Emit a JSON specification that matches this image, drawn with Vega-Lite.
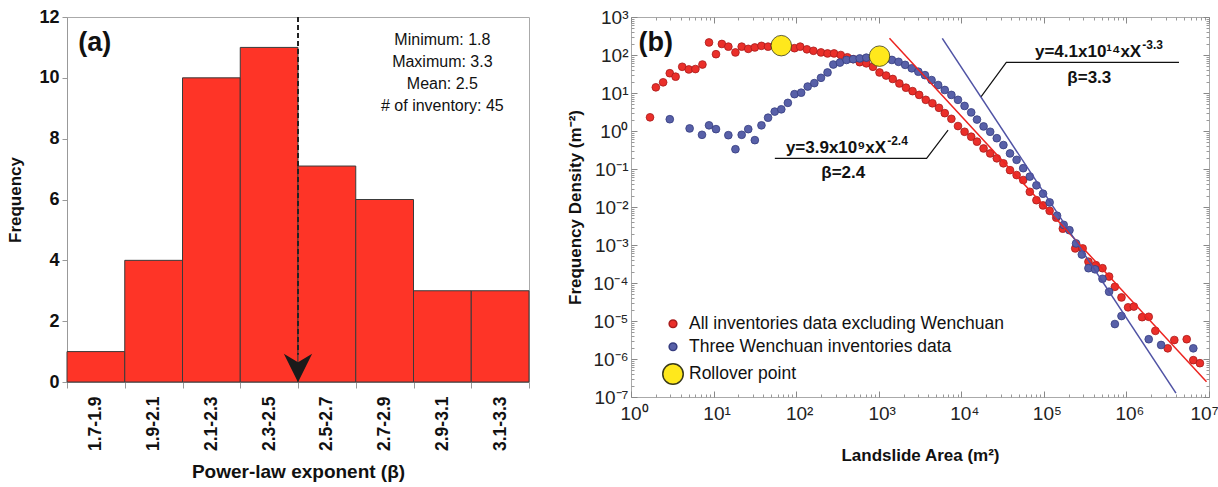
{
  "$schema": "https://vega.github.io/schema/vega-lite/v6.json",
  "background": "white",
  "padding": {"left": 6, "top": 7, "right": 8, "bottom": 5},
  "spacing": 36,
  "config": {
    "font": "Liberation Sans",
    "view": {"stroke": "#aaaaaa", "strokeWidth": 1},
    "axis": {"labelFont": "Liberation Sans", "titleFont": "Liberation Sans", "grid": false}
  },
  "datasets": {
    "hist": [
      {"bin": "1.7-1.9", "frequency": 1},
      {"bin": "1.9-2.1", "frequency": 4},
      {"bin": "2.1-2.3", "frequency": 10},
      {"bin": "2.3-2.5", "frequency": 11},
      {"bin": "2.5-2.7", "frequency": 7.1},
      {"bin": "2.7-2.9", "frequency": 6},
      {"bin": "2.9-3.1", "frequency": 3},
      {"bin": "3.1-3.3", "frequency": 3}
    ],
    "points": [
      {"series": "All inventories data excluding Wenchuan", "area": 1.70, "density": 2.29},
      {"series": "All inventories data excluding Wenchuan", "area": 2.00, "density": 14.1},
      {"series": "All inventories data excluding Wenchuan", "area": 2.45, "density": 19.1},
      {"series": "All inventories data excluding Wenchuan", "area": 2.95, "density": 33.1},
      {"series": "All inventories data excluding Wenchuan", "area": 3.47, "density": 26.9},
      {"series": "All inventories data excluding Wenchuan", "area": 4.17, "density": 49.0},
      {"series": "All inventories data excluding Wenchuan", "area": 5.01, "density": 41.7},
      {"series": "All inventories data excluding Wenchuan", "area": 6.03, "density": 42.7},
      {"series": "All inventories data excluding Wenchuan", "area": 7.33, "density": 56.2},
      {"series": "All inventories data excluding Wenchuan", "area": 8.81, "density": 214},
      {"series": "All inventories data excluding Wenchuan", "area": 10.7, "density": 105},
      {"series": "All inventories data excluding Wenchuan", "area": 12.6, "density": 195},
      {"series": "All inventories data excluding Wenchuan", "area": 15.1, "density": 166},
      {"series": "All inventories data excluding Wenchuan", "area": 18.4, "density": 117},
      {"series": "All inventories data excluding Wenchuan", "area": 21.9, "density": 166},
      {"series": "All inventories data excluding Wenchuan", "area": 26.3, "density": 145},
      {"series": "All inventories data excluding Wenchuan", "area": 31.6, "density": 158},
      {"series": "All inventories data excluding Wenchuan", "area": 38.0, "density": 174},
      {"series": "All inventories data excluding Wenchuan", "area": 45.7, "density": 166},
      {"series": "All inventories data excluding Wenchuan", "area": 55.0, "density": 174},
      {"series": "All inventories data excluding Wenchuan", "area": 66.1, "density": 174},
      {"series": "All inventories data excluding Wenchuan", "area": 79.4, "density": 166},
      {"series": "All inventories data excluding Wenchuan", "area": 95.5, "density": 151},
      {"series": "All inventories data excluding Wenchuan", "area": 112, "density": 166},
      {"series": "All inventories data excluding Wenchuan", "area": 135, "density": 141},
      {"series": "All inventories data excluding Wenchuan", "area": 162, "density": 129},
      {"series": "All inventories data excluding Wenchuan", "area": 200, "density": 117},
      {"series": "All inventories data excluding Wenchuan", "area": 240, "density": 110},
      {"series": "All inventories data excluding Wenchuan", "area": 288, "density": 110},
      {"series": "All inventories data excluding Wenchuan", "area": 347, "density": 100},
      {"series": "All inventories data excluding Wenchuan", "area": 417, "density": 87.1},
      {"series": "All inventories data excluding Wenchuan", "area": 490, "density": 77.6},
      {"series": "All inventories data excluding Wenchuan", "area": 589, "density": 64.6},
      {"series": "All inventories data excluding Wenchuan", "area": 708, "density": 60.3},
      {"series": "All inventories data excluding Wenchuan", "area": 851, "density": 49.0},
      {"series": "All inventories data excluding Wenchuan", "area": 1023, "density": 34.7},
      {"series": "All inventories data excluding Wenchuan", "area": 1230, "density": 28.8},
      {"series": "All inventories data excluding Wenchuan", "area": 1479, "density": 23.4},
      {"series": "All inventories data excluding Wenchuan", "area": 1778, "density": 17.8},
      {"series": "All inventories data excluding Wenchuan", "area": 2138, "density": 13.8},
      {"series": "All inventories data excluding Wenchuan", "area": 2570, "density": 11.2},
      {"series": "All inventories data excluding Wenchuan", "area": 3090, "density": 8.91},
      {"series": "All inventories data excluding Wenchuan", "area": 3715, "density": 6.61},
      {"series": "All inventories data excluding Wenchuan", "area": 4467, "density": 5.37},
      {"series": "All inventories data excluding Wenchuan", "area": 5370, "density": 4.07},
      {"series": "All inventories data excluding Wenchuan", "area": 6310, "density": 2.95},
      {"series": "All inventories data excluding Wenchuan", "area": 7586, "density": 2.09},
      {"series": "All inventories data excluding Wenchuan", "area": 9120, "density": 1.35},
      {"series": "All inventories data excluding Wenchuan", "area": 10960, "density": 0.955},
      {"series": "All inventories data excluding Wenchuan", "area": 13180, "density": 0.708},
      {"series": "All inventories data excluding Wenchuan", "area": 15490, "density": 0.525},
      {"series": "All inventories data excluding Wenchuan", "area": 18620, "density": 0.347},
      {"series": "All inventories data excluding Wenchuan", "area": 22390, "density": 0.257},
      {"series": "All inventories data excluding Wenchuan", "area": 26920, "density": 0.191},
      {"series": "All inventories data excluding Wenchuan", "area": 32360, "density": 0.141},
      {"series": "All inventories data excluding Wenchuan", "area": 38900, "density": 0.0933},
      {"series": "All inventories data excluding Wenchuan", "area": 46770, "density": 0.0692},
      {"series": "All inventories data excluding Wenchuan", "area": 56230, "density": 0.0513},
      {"series": "All inventories data excluding Wenchuan", "area": 67610, "density": 0.0251},
      {"series": "All inventories data excluding Wenchuan", "area": 81280, "density": 0.0151},
      {"series": "All inventories data excluding Wenchuan", "area": 97720, "density": 0.0110},
      {"series": "All inventories data excluding Wenchuan", "area": 117500, "density": 0.00794},
      {"series": "All inventories data excluding Wenchuan", "area": 141300, "density": 0.00525},
      {"series": "All inventories data excluding Wenchuan", "area": 169800, "density": 0.00269},
      {"series": "All inventories data excluding Wenchuan", "area": 239900, "density": 0.000813},
      {"series": "All inventories data excluding Wenchuan", "area": 295100, "density": 0.000813},
      {"series": "All inventories data excluding Wenchuan", "area": 346700, "density": 0.000363},
      {"series": "All inventories data excluding Wenchuan", "area": 426600, "density": 0.000295},
      {"series": "All inventories data excluding Wenchuan", "area": 512900, "density": 0.000245},
      {"series": "All inventories data excluding Wenchuan", "area": 616600, "density": 0.000148},
      {"series": "All inventories data excluding Wenchuan", "area": 724400, "density": 0.0000794},
      {"series": "All inventories data excluding Wenchuan", "area": 871000, "density": 0.0000417},
      {"series": "All inventories data excluding Wenchuan", "area": 1047000, "density": 0.0000229},
      {"series": "All inventories data excluding Wenchuan", "area": 1230000, "density": 0.0000240},
      {"series": "All inventories data excluding Wenchuan", "area": 1549000, "density": 0.0000126},
      {"series": "All inventories data excluding Wenchuan", "area": 1862000, "density": 0.0000129},
      {"series": "All inventories data excluding Wenchuan", "area": 2239000, "density": 0.0000055},
      {"series": "All inventories data excluding Wenchuan", "area": 3162000, "density": 0.00000191},
      {"series": "All inventories data excluding Wenchuan", "area": 3802000, "density": 0.00000316},
      {"series": "All inventories data excluding Wenchuan", "area": 5370000, "density": 0.00000331},
      {"series": "All inventories data excluding Wenchuan", "area": 6457000, "density": 0.000000933},
      {"series": "All inventories data excluding Wenchuan", "area": 7762000, "density": 0.000000776},
      {"series": "Three Wenchuan inventories data", "area": 2.95, "density": 2.04},
      {"series": "Three Wenchuan inventories data", "area": 5.13, "density": 1.17},
      {"series": "Three Wenchuan inventories data", "area": 7.24, "density": 0.794},
      {"series": "Three Wenchuan inventories data", "area": 8.81, "density": 1.41},
      {"series": "Three Wenchuan inventories data", "area": 10.7, "density": 1.12},
      {"series": "Three Wenchuan inventories data", "area": 15.1, "density": 0.776},
      {"series": "Three Wenchuan inventories data", "area": 18.4, "density": 0.331},
      {"series": "Three Wenchuan inventories data", "area": 21.9, "density": 0.794},
      {"series": "Three Wenchuan inventories data", "area": 26.3, "density": 1.12},
      {"series": "Three Wenchuan inventories data", "area": 31.6, "density": 0.575},
      {"series": "Three Wenchuan inventories data", "area": 38.0, "density": 1.41},
      {"series": "Three Wenchuan inventories data", "area": 45.7, "density": 2.24},
      {"series": "Three Wenchuan inventories data", "area": 55.0, "density": 3.24},
      {"series": "Three Wenchuan inventories data", "area": 66.1, "density": 3.72},
      {"series": "Three Wenchuan inventories data", "area": 79.4, "density": 5.50},
      {"series": "Three Wenchuan inventories data", "area": 95.5, "density": 9.33},
      {"series": "Three Wenchuan inventories data", "area": 115, "density": 10.2},
      {"series": "Three Wenchuan inventories data", "area": 138, "density": 14.8},
      {"series": "Three Wenchuan inventories data", "area": 166, "density": 18.2},
      {"series": "Three Wenchuan inventories data", "area": 200, "density": 25.1},
      {"series": "Three Wenchuan inventories data", "area": 240, "density": 34.7},
      {"series": "Three Wenchuan inventories data", "area": 282, "density": 56.2},
      {"series": "Three Wenchuan inventories data", "area": 339, "density": 63.1},
      {"series": "Three Wenchuan inventories data", "area": 407, "density": 74.1},
      {"series": "Three Wenchuan inventories data", "area": 490, "density": 77.6},
      {"series": "Three Wenchuan inventories data", "area": 589, "density": 81.3},
      {"series": "Three Wenchuan inventories data", "area": 708, "density": 85.1},
      {"series": "Three Wenchuan inventories data", "area": 851, "density": 87.1},
      {"series": "Three Wenchuan inventories data", "area": 1023, "density": 89.1},
      {"series": "Three Wenchuan inventories data", "area": 1230, "density": 81.3},
      {"series": "Three Wenchuan inventories data", "area": 1445, "density": 74.1},
      {"series": "Three Wenchuan inventories data", "area": 1738, "density": 66.1},
      {"series": "Three Wenchuan inventories data", "area": 2089, "density": 55.0},
      {"series": "Three Wenchuan inventories data", "area": 2512, "density": 44.7},
      {"series": "Three Wenchuan inventories data", "area": 3020, "density": 36.3},
      {"series": "Three Wenchuan inventories data", "area": 3631, "density": 29.5},
      {"series": "Three Wenchuan inventories data", "area": 4365, "density": 21.9},
      {"series": "Three Wenchuan inventories data", "area": 5248, "density": 16.2},
      {"series": "Three Wenchuan inventories data", "area": 6310, "density": 12.0},
      {"series": "Three Wenchuan inventories data", "area": 7586, "density": 8.91},
      {"series": "Three Wenchuan inventories data", "area": 9120, "density": 6.61},
      {"series": "Three Wenchuan inventories data", "area": 10960, "density": 4.57},
      {"series": "Three Wenchuan inventories data", "area": 13180, "density": 3.09},
      {"series": "Three Wenchuan inventories data", "area": 15490, "density": 2.00},
      {"series": "Three Wenchuan inventories data", "area": 18620, "density": 1.32},
      {"series": "Three Wenchuan inventories data", "area": 22390, "density": 0.955},
      {"series": "Three Wenchuan inventories data", "area": 26920, "density": 0.646},
      {"series": "Three Wenchuan inventories data", "area": 32360, "density": 0.427},
      {"series": "Three Wenchuan inventories data", "area": 38900, "density": 0.257},
      {"series": "Three Wenchuan inventories data", "area": 46770, "density": 0.174},
      {"series": "Three Wenchuan inventories data", "area": 56230, "density": 0.105},
      {"series": "Three Wenchuan inventories data", "area": 67610, "density": 0.0631},
      {"series": "Three Wenchuan inventories data", "area": 81280, "density": 0.0372},
      {"series": "Three Wenchuan inventories data", "area": 97720, "density": 0.0224},
      {"series": "Three Wenchuan inventories data", "area": 117500, "density": 0.0132},
      {"series": "Three Wenchuan inventories data", "area": 144500, "density": 0.00589},
      {"series": "Three Wenchuan inventories data", "area": 173800, "density": 0.00339},
      {"series": "Three Wenchuan inventories data", "area": 204200, "density": 0.00245},
      {"series": "Three Wenchuan inventories data", "area": 245500, "density": 0.00110},
      {"series": "Three Wenchuan inventories data", "area": 288400, "density": 0.000562},
      {"series": "Three Wenchuan inventories data", "area": 346700, "density": 0.000245},
      {"series": "Three Wenchuan inventories data", "area": 416900, "density": 0.000229},
      {"series": "Three Wenchuan inventories data", "area": 512900, "density": 0.000129},
      {"series": "Three Wenchuan inventories data", "area": 616600, "density": 0.0000589},
      {"series": "Three Wenchuan inventories data", "area": 724400, "density": 0.00000832},
      {"series": "Three Wenchuan inventories data", "area": 871000, "density": 0.0000135},
      {"series": "Three Wenchuan inventories data", "area": 1862000, "density": 0.00000331},
      {"series": "Three Wenchuan inventories data", "area": 2630000, "density": 0.00000234},
      {"series": "Three Wenchuan inventories data", "area": 6457000, "density": 0.00000191},
      {"series": "Rollover point", "area": 66.1, "density": 176},
      {"series": "Rollover point", "area": 1023, "density": 93.3}
    ],
    "fitRed": [
      {"area": 1349, "density": 275},
      {"area": 9330000, "density": 0.000000251}
    ],
    "fitBlue": [
      {"area": 5888, "density": 275},
      {"area": 3980000, "density": 0.000000126}
    ],
    "leaders": [
      {"leader": "red", "area": 55.2, "density": 0.191},
      {"leader": "red", "area": 3802, "density": 0.191},
      {"leader": "red", "area": 6918, "density": 1.06},
      {"leader": "blue", "area": 17400, "density": 8.0},
      {"leader": "blue", "area": 35100, "density": 64.3},
      {"leader": "blue", "area": 4330000, "density": 64.3}
    ],
    "equations": [
      {"eq": "y=3.9x10⁹xX", "sup": "-2.4", "area": 1230, "density": 0.268},
      {"eq": "y=4.1x10¹⁴xX", "sup": "-3.3", "area": 1510000, "density": 89.7}
    ],
    "betas": [
      {"beta": "β=2.4", "area": 372, "density": 0.0569},
      {"beta": "β=3.3", "area": 355000, "density": 18.3}
    ]
  },
  "hconcat": [
    {
      "width": 462,
      "height": 365,
      "layer": [
        {
          "data": {"name": "hist"},
          "mark": {"type": "bar", "color": "#fe3427", "stroke": "#3a3a3a", "strokeWidth": 1},
          "encoding": {
            "x": {
              "field": "bin", "type": "ordinal", "sort": null,
              "scale": {"paddingInner": 0, "paddingOuter": 0},
              "axis": {
                "title": "Power-law exponent (β)", "titleFontSize": 19, "titleFontWeight": "bold", "titleColor": "#111", "titlePadding": 12,
                "labelAngle": -90, "labelFontSize": 17.5, "labelFontWeight": "bold", "labelColor": "#111", "labelPadding": 8,
                "tickBand": "extent", "tickSize": 6, "tickColor": "#999", "domainColor": "#999"
              }
            },
            "y": {
              "field": "frequency", "type": "quantitative",
              "scale": {"domain": [0, 12], "nice": false},
              "axis": {
                "title": "Frequency", "titleFontSize": 17, "titleFontWeight": "bold", "titleColor": "#111", "titlePadding": 14,
                "values": [0, 2, 4, 6, 8, 10, 12], "labelFontSize": 18, "labelFontWeight": "bold", "labelColor": "#111", "labelPadding": 3,
                "tickSize": 5, "tickColor": "#999", "domainColor": "#999"
              }
            }
          }
        },
        {
          "data": {"values": [{}]},
          "mark": {"type": "rule", "strokeDash": [5, 3], "strokeWidth": 2, "color": "#222"},
          "encoding": {
            "x": {"datum": "2.3-2.5", "type": "ordinal", "bandPosition": 1},
            "y": {"datum": 12, "type": "quantitative"},
            "y2": {"datum": 0.9}
          }
        },
        {
          "data": {"values": [{}]},
          "mark": {"type": "point", "shape": "M0,1L-1,-1L0,-0.4L1,-1Z", "filled": true, "color": "#1a1a1a", "size": 800, "opacity": 1},
          "encoding": {
            "x": {"datum": "2.3-2.5", "type": "ordinal", "bandPosition": 1},
            "y": {"datum": 0.46, "type": "quantitative"}
          }
        },
        {
          "data": {"values": [{}]},
          "mark": {"type": "text", "fontSize": 27, "fontWeight": "bold", "color": "#111", "align": "center", "baseline": "middle"},
          "encoding": {
            "x": {"datum": "1.7-1.9", "type": "ordinal", "bandPosition": 0.48},
            "y": {"datum": 11.15, "type": "quantitative"},
            "text": {"value": "(a)"}
          }
        },
        {
          "data": {"values": [{}]},
          "mark": {"type": "text", "fontSize": 16, "color": "#111", "align": "center", "baseline": "top", "lineHeight": 22},
          "encoding": {
            "x": {"datum": "2.9-3.1", "type": "ordinal", "bandPosition": 0.5},
            "y": {"datum": 11.5, "type": "quantitative"},
            "text": {"value": ["Minimum: 1.8", "Maximum: 3.3", "Mean: 2.5", "# of inventory: 45"]}
          }
        }
      ]
    },
    {
      "width": 578,
      "height": 380,
      "resolve": {"axis": {"x": "independent", "y": "independent"}},
      "layer": [
        {
          "data": {"name": "points"},
          "mark": {"type": "point", "filled": true, "opacity": 1, "strokeWidth": 0.8},
          "encoding": {
            "x": {
              "field": "area", "type": "quantitative",
              "scale": {"type": "log", "domain": [1, 10000000], "nice": false},
              "axis": {
                "orient": "bottom", "title": "Landslide Area (m²)", "titleFontSize": 17, "titleFontWeight": "bold", "titleColor": "#111", "titlePadding": 24,
                "values": [1, 10, 100, 1000, 10000, 100000, 1000000, 10000000],
                "labelExpr": "'10' + ['⁰','¹','²','³','⁴','⁵','⁶','⁷','⁸','⁹'][round(log(datum.value) / LN10)]",
                "labelFontSize": 19, "labelColor": "#222", "labelPadding": 13, "labelFlush": false, "labelOverlap": false,
                "labelOffset": {"condition": {"test": "datum.value > 5000000", "value": -5}, "value": 3},
                "tickSize": -6, "tickColor": "#888", "domain": false
              }
            },
            "y": {
              "field": "density", "type": "quantitative",
              "scale": {"type": "log", "domain": [0.0000001, 1000], "nice": false},
              "axis": {
                "orient": "left", "title": "Frequency Density (m⁻²)", "titleFontSize": 17, "titleFontWeight": "bold", "titleColor": "#111", "titlePadding": 8,
                "values": [0.0000001, 0.000001, 0.00001, 0.0001, 0.001, 0.01, 0.1, 1, 10, 100, 1000],
                "labelExpr": "'10' + (datum.value < 0.5 ? '⁻' : '') + ['⁰','¹','²','³','⁴','⁵','⁶','⁷','⁸','⁹'][abs(round(log(datum.value) / LN10))]",
                "labelFontSize": 19, "labelColor": "#222", "labelPadding": 9, "labelFlush": false, "labelOverlap": false,
                "tickSize": -6, "tickColor": "#888", "domain": false
              }
            },
            "color": {
              "field": "series", "type": "nominal",
              "scale": {"domain": ["All inventories data excluding Wenchuan", "Three Wenchuan inventories data", "Rollover point"], "range": ["#ea2f2a", "#5860a8", "#ffe81c"]},
              "legend": {"orient": "none", "legendX": 595, "legendY": 298, "title": null, "labelFontSize": 17.5, "labelColor": "#111", "labelFont": "Liberation Sans", "labelLimit": 0, "rowPadding": 4, "labelOffset": 5}
            },
            "size": {
              "field": "series", "type": "nominal",
              "scale": {"type": "ordinal", "domain": ["All inventories data excluding Wenchuan", "Three Wenchuan inventories data", "Rollover point"], "range": [60, 60, 420]},
              "legend": {"orient": "none", "legendX": 595, "legendY": 298, "title": null, "labelFontSize": 17.5, "labelColor": "#111", "labelFont": "Liberation Sans", "labelLimit": 0, "rowPadding": 4, "labelOffset": 5}
            },
            "stroke": {
              "field": "series", "type": "nominal",
              "scale": {"domain": ["All inventories data excluding Wenchuan", "Three Wenchuan inventories data", "Rollover point"], "range": ["#a81c1c", "#363d80", "#3a3a1a"]},
              "legend": {"orient": "none", "legendX": 595, "legendY": 298, "title": null, "labelFontSize": 17.5, "labelColor": "#111", "labelFont": "Liberation Sans", "labelLimit": 0, "rowPadding": 4, "labelOffset": 5}
            }
          }
        },
        {
          "data": {"name": "fitRed"},
          "mark": {"type": "line", "color": "#ec2420", "strokeWidth": 1.5},
          "encoding": {
            "x": {
              "field": "area", "type": "quantitative",
              "scale": {"type": "log", "domain": [1, 10000000], "nice": false},
              "axis": {"orient": "top", "title": null, "labels": false, "domain": false, "values": [1, 10, 100, 1000, 10000, 100000, 1000000, 10000000], "tickSize": -6, "tickColor": "#888"}
            },
            "y": {
              "field": "density", "type": "quantitative",
              "scale": {"type": "log", "domain": [0.0000001, 1000], "nice": false},
              "axis": {"orient": "right", "title": null, "labels": false, "domain": false, "values": [0.0000001, 0.000001, 0.00001, 0.0001, 0.001, 0.01, 0.1, 1, 10, 100, 1000], "tickSize": -6, "tickColor": "#888"}
            }
          }
        },
        {
          "data": {"name": "fitBlue"},
          "mark": {"type": "line", "color": "#4f52a4", "strokeWidth": 1.5},
          "encoding": {
            "x": {
              "field": "area", "type": "quantitative",
              "scale": {"type": "log", "domain": [1, 10000000], "nice": false},
              "axis": {"orient": "bottom", "title": null, "labels": false, "domain": false, "tickSize": -3, "tickColor": "#999",
                "values": [2,3,4,5,6,7,8,9,20,30,40,50,60,70,80,90,200,300,400,500,600,700,800,900,2000,3000,4000,5000,6000,7000,8000,9000,20000,30000,40000,50000,60000,70000,80000,90000,200000,300000,400000,500000,600000,700000,800000,900000,2000000,3000000,4000000,5000000,6000000,7000000,8000000,9000000]}
            },
            "y": {
              "field": "density", "type": "quantitative",
              "scale": {"type": "log", "domain": [0.0000001, 1000], "nice": false},
              "axis": {"orient": "left", "title": null, "labels": false, "domain": false, "tickSize": -3, "tickColor": "#999",
                "values": [2e-7,3e-7,4e-7,5e-7,6e-7,7e-7,8e-7,9e-7,2e-6,3e-6,4e-6,5e-6,6e-6,7e-6,8e-6,9e-6,2e-5,3e-5,4e-5,5e-5,6e-5,7e-5,8e-5,9e-5,2e-4,3e-4,4e-4,5e-4,6e-4,7e-4,8e-4,9e-4,0.002,0.003,0.004,0.005,0.006,0.007,0.008,0.009,0.02,0.03,0.04,0.05,0.06,0.07,0.08,0.09,0.2,0.3,0.4,0.5,0.6,0.7,0.8,0.9,2,3,4,5,6,7,8,9,20,30,40,50,60,70,80,90,200,300,400,500,600,700,800,900]}
            }
          }
        },
        {
          "data": {"name": "leaders"},
          "mark": {"type": "line", "color": "#111", "strokeWidth": 1.2},
          "encoding": {
            "x": {
              "field": "area", "type": "quantitative",
              "scale": {"type": "log", "domain": [1, 10000000], "nice": false},
              "axis": {"orient": "top", "title": null, "labels": false, "domain": false, "tickSize": -3, "tickColor": "#999",
                "values": [2,3,4,5,6,7,8,9,20,30,40,50,60,70,80,90,200,300,400,500,600,700,800,900,2000,3000,4000,5000,6000,7000,8000,9000,20000,30000,40000,50000,60000,70000,80000,90000,200000,300000,400000,500000,600000,700000,800000,900000,2000000,3000000,4000000,5000000,6000000,7000000,8000000,9000000]}
            },
            "y": {
              "field": "density", "type": "quantitative",
              "scale": {"type": "log", "domain": [0.0000001, 1000], "nice": false},
              "axis": {"orient": "right", "title": null, "labels": false, "domain": false, "tickSize": -3, "tickColor": "#999",
                "values": [2e-7,3e-7,4e-7,5e-7,6e-7,7e-7,8e-7,9e-7,2e-6,3e-6,4e-6,5e-6,6e-6,7e-6,8e-6,9e-6,2e-5,3e-5,4e-5,5e-5,6e-5,7e-5,8e-5,9e-5,2e-4,3e-4,4e-4,5e-4,6e-4,7e-4,8e-4,9e-4,0.002,0.003,0.004,0.005,0.006,0.007,0.008,0.009,0.02,0.03,0.04,0.05,0.06,0.07,0.08,0.09,0.2,0.3,0.4,0.5,0.6,0.7,0.8,0.9,2,3,4,5,6,7,8,9,20,30,40,50,60,70,80,90,200,300,400,500,600,700,800,900]}
            },
            "detail": {"field": "leader", "type": "nominal"}
          }
        },
        {
          "data": {"name": "equations"},
          "mark": {"type": "text", "fontSize": 17, "fontWeight": "bold", "color": "#111", "align": "right", "baseline": "alphabetic"},
          "encoding": {
            "x": {"field": "area", "type": "quantitative", "scale": {"type": "log", "domain": [1, 10000000], "nice": false}, "axis": null},
            "y": {"field": "density", "type": "quantitative", "scale": {"type": "log", "domain": [0.0000001, 1000], "nice": false}, "axis": null},
            "text": {"field": "eq"}
          }
        },
        {
          "data": {"name": "equations"},
          "mark": {"type": "text", "fontSize": 12, "fontWeight": "bold", "color": "#111", "align": "left", "baseline": "alphabetic", "dx": 1, "dy": -8},
          "encoding": {
            "x": {"field": "area", "type": "quantitative", "scale": {"type": "log", "domain": [1, 10000000], "nice": false}, "axis": null},
            "y": {"field": "density", "type": "quantitative", "scale": {"type": "log", "domain": [0.0000001, 1000], "nice": false}, "axis": null},
            "text": {"field": "sup"}
          }
        },
        {
          "data": {"name": "betas"},
          "mark": {"type": "text", "fontSize": 17, "fontWeight": "bold", "color": "#111", "align": "center", "baseline": "alphabetic"},
          "encoding": {
            "x": {"field": "area", "type": "quantitative", "scale": {"type": "log", "domain": [1, 10000000], "nice": false}, "axis": null},
            "y": {"field": "density", "type": "quantitative", "scale": {"type": "log", "domain": [0.0000001, 1000], "nice": false}, "axis": null},
            "text": {"field": "beta"}
          }
        },
        {
          "data": {"values": [{}]},
          "mark": {"type": "text", "fontSize": 27, "fontWeight": "bold", "color": "#111", "align": "center", "baseline": "middle"},
          "encoding": {
            "x": {"datum": 2.0, "type": "quantitative", "scale": {"type": "log", "domain": [1, 10000000], "nice": false}, "axis": null},
            "y": {"datum": 207, "type": "quantitative", "scale": {"type": "log", "domain": [0.0000001, 1000], "nice": false}, "axis": null},
            "text": {"value": "(b)"}
          }
        }
      ]
    }
  ]
}
